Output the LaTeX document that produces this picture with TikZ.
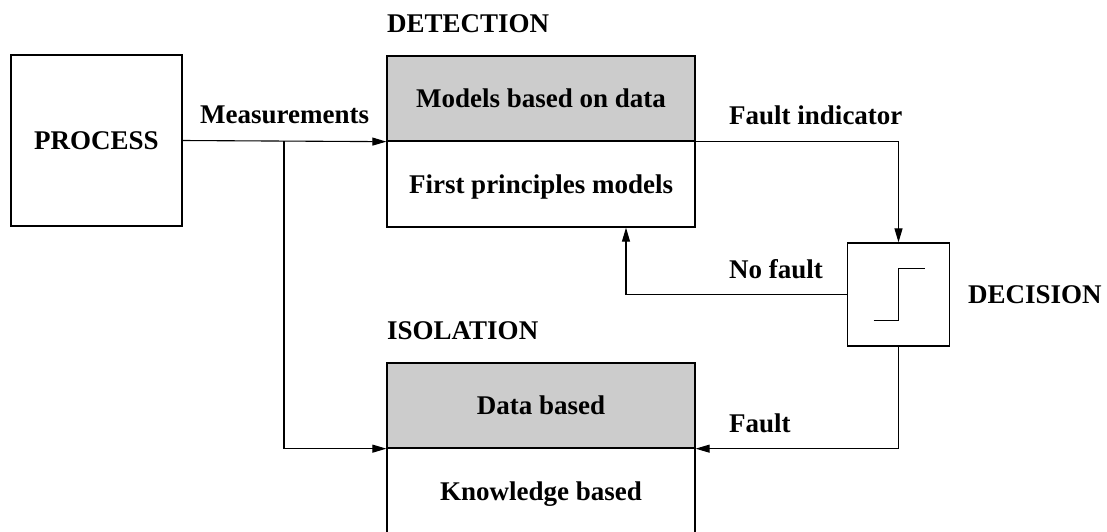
\documentclass[tikz,border=0pt]{standalone}
\usepackage{fontspec}
\setmainfont{Liberation Serif}
\usetikzlibrary{arrows.meta}
\definecolor{panelgray}{HTML}{CCCCCC}
\tikzset{
  every node/.style={font=\bfseries\fontsize{27}{32}\selectfont},
  blockbox/.style={draw, line width=1.3pt, inner sep=0pt, text height=18.3pt, text depth=0pt},
  shaded/.style={blockbox, fill=panelgray},
  flow/.style={line width=1.1pt},
  arr/.style={flow, -{Triangle[length=14pt,width=8pt]}},
  lbl/.style={anchor=base west, inner sep=0pt},
}
\begin{document}
\begin{tikzpicture}[x=1pt,y=-1pt]
\useasboundingbox (0,0) rectangle (1107,531);
\clip (0,0) rectangle (1107,531);
\fill[white] (0,0) rectangle (1107,531);

% process block
\node[blockbox, minimum width=171pt, minimum height=171pt] (proc) at (96.5,140.5) {PROCESS};

% detection block: data-based models over first-principles models
\node[shaded, minimum width=308pt, minimum height=85pt] (detTop) at (541,98.5) {Models based on data};
\node[blockbox, minimum width=308pt, minimum height=86pt] (detBot) at (541,184) {First principles models};
\node[lbl] (detLbl) at (387,32) {DETECTION};

% isolation block
\node[shaded, minimum width=308pt, minimum height=85pt] (isoTop) at (541,405.5) {Data based};
\node[blockbox, minimum width=308pt, minimum height=86pt] (isoBot) at (541,491) {Knowledge based};
\node[lbl] (isoLbl) at (387,339) {ISOLATION};

% decision block with threshold step
\node[draw, line width=1.3pt, minimum width=102pt, minimum height=103pt, inner sep=0pt] (dec) at (898.5,294.5) {};
\draw[line width=1pt] ([xshift=-25pt,yshift=-26pt]dec.center) -- ++(25pt,0) -- ++(0,52pt) -- ++(26pt,0);
\node[lbl] (decLbl) at (968,303) {DECISION};

% signal paths
\coordinate (br) at (284,141);
\draw[arr] (proc.east) -- (detTop.south west);
\draw[arr] (br) |- (isoTop.south west);
\draw[arr] (detTop.south east) -| (dec.north);
\draw[arr] (dec.west) -| ([xshift=85pt]detBot.south);
\draw[arr] (dec.south) |- (isoTop.south east);

% connector labels
\node[lbl] (measLbl) at (200,123) {Measurements};
\node[lbl] (fiLbl) at (729,124) {Fault indicator};
\node[lbl] (nfLbl) at (729,278) {No fault};
\node[lbl] (fLbl) at (729,432) {Fault};
\end{tikzpicture}
\end{document}
